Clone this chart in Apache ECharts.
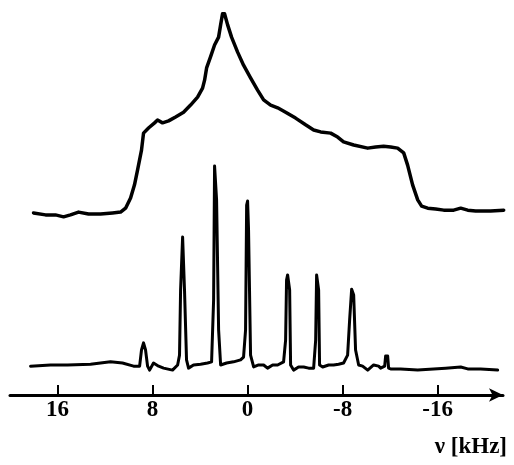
<!DOCTYPE html>
<html>
<head>
<meta charset="utf-8">
<script src="https://cdn.jsdelivr.net/npm/echarts@6/dist/echarts.min.js"></script>
<style>html,body{margin:0;padding:0;background:#fff}#c{width:514px;height:465px}</style>
</head>
<body>
<div id="c"></div>
<script>
// frequency in kHz (positive on the left) and intensity (arbitrary units)
const upperNu = [18.02,17.01,16.17,15.49,14.91,14.23,13.39,12.38,11.37,10.69,10.27,9.85,9.52,9.26,8.93,8.76,8.34,7.83,7.58,7.16,6.65,6.06,5.39,4.80,4.21,3.79,3.62,3.45,3.12,2.78,2.44,2.27,2.11,1.94,1.68,1.35,0.84,0.34,-0.25,-0.84,-1.35,-1.94,-2.53,-3.20,-4.04,-4.88,-5.56,-6.15,-6.99,-7.58,-8.08,-8.93,-10.11,-10.78,-11.45,-12.04,-12.63,-13.14,-13.47,-13.89,-14.32,-14.65,-15.16,-15.83,-16.51,-17.35,-17.94,-18.53,-19.20,-20.46,-21.56];
const upperI = [46.1,45.6,45.6,45.1,45.6,46.3,45.8,45.8,46.1,46.3,47.3,49.9,53.2,57.0,62.0,66.3,67.6,68.9,69.6,68.9,69.4,70.4,71.6,73.4,75.4,77.7,79.7,82.8,85.6,88.6,90.6,93.7,96.5,96.5,93.7,90.6,86.8,83.5,80.3,77.2,74.7,73.4,72.7,71.6,70.1,68.4,67.1,66.6,66.3,65.3,64.1,63.3,62.5,62.8,63.0,62.8,62.5,61.3,58.2,53.2,49.4,47.8,47.3,47.1,46.8,46.8,47.3,46.8,46.6,46.6,46.8];

const lowerNu = [18.27,16.59,15.16,13.22,11.54,10.53,9.60,9.09,8.93,8.76,8.59,8.42,8.25,7.92,7.49,7.07,6.32,5.89,5.73,5.64,5.47,5.31,5.14,4.97,4.55,3.96,3.37,3.03,2.86,2.78,2.69,2.61,2.44,2.27,1.77,1.18,0.59,0.34,0.17,0.08,0,-0.08,-0.25,-0.51,-0.93,-1.35,-1.68,-2.11,-2.53,-3.03,-3.20,-3.28,-3.37,-3.54,-3.62,-3.87,-4.29,-4.72,-5.14,-5.56,-5.73,-5.81,-5.89,-5.98,-6.06,-6.32,-6.82,-7.24,-7.66,-8.08,-8.42,-8.59,-8.76,-8.93,-9.09,-9.35,-9.68,-10.11,-10.61,-11.03,-11.20,-11.54,-11.62,-11.71,-11.79,-11.87,-12.04,-12.88,-14.32,-15.66,-16.67,-17.94,-18.53,-19.62,-21.05];
const lowerI = [7.3,7.6,7.6,7.8,8.4,8.1,7.3,7.3,11.4,13.2,
 11.4,7.3,6.3,8.1,7.3,6.8,6.3,7.6,10.1,26.6,
 40.0,26.6,8.9,6.8,7.6,7.8,8.1,8.4,24.1,58.0,
 58.5,49.4,16.5,7.6,8.1,8.4,8.9,9.6,16.5,48.1,
 49.1,41.8,10.1,7.1,7.6,7.6,6.8,7.6,7.6,8.4,
 13.9,29.1,30.4,26.6,7.6,6.3,7.1,7.1,6.8,6.8,
 13.9,30.4,30.9,26.6,7.6,7.1,7.6,7.6,7.8,8.1,
 10.1,19.0,26.8,25.3,11.4,7.6,7.3,6.3,7.6,7.3,
 6.8,7.3,9.9,10.4,9.9,6.8,6.6,6.6,6.3,6.6,
 6.8,7.1,6.6,6.6,6.3];

const tickValues = [16, 8, 0, -8, -16];
const axisName = 'ν [kHz]';

// the axis runs from high to low frequency: plot -nu on a normal axis
const toData = (nu, I) => nu.map((n, i) => [-n, I[i]]);

const chart = echarts.init(document.getElementById('c'), null, {renderer: 'canvas'});
const serif = "Liberation Serif";
chart.setOption({
  animation: false,
  backgroundColor: '#fff',
  title: {
    text: axisName, right: 2, top: 431,
    textStyle: {fontFamily: serif, fontWeight: 'bold', fontSize: 23, color: '#000'}
  },
  grid: {left: 10, right: 11, top: 0, bottom: 70},
  xAxis: {
    type: 'value', min: -20, max: 21.5,
    splitLine: {show: false},
    axisLine: {show: true, lineStyle: {color: '#000', width: 3}, symbol: ['none', 'arrow'], symbolSize: [10, 14]},
    axisTick: {show: true, inside: true, length: 10, lineStyle: {color: '#000', width: 2}, customValues: tickValues.map(v => -v)},
    axisLabel: {
      customValues: tickValues.map(v => -v),
      formatter: v => String(-v === 0 ? 0 : -v),
      fontFamily: serif, fontWeight: 'bold', fontSize: 23, color: '#000', margin: 4
    }
  },
  yAxis: {type: 'value', min: 0, max: 100, show: false},
  series: [
    {type: 'line', data: toData(upperNu, upperI), showSymbol: false, clip: false,
     lineStyle: {color: '#000', width: 3.5, join: 'round', cap: 'round'}},
    {type: 'line', data: toData(lowerNu, lowerI), showSymbol: false, clip: false,
     lineStyle: {color: '#000', width: 3, join: 'round', cap: 'round'}}
  ]
});
</script>
</body>
</html>
